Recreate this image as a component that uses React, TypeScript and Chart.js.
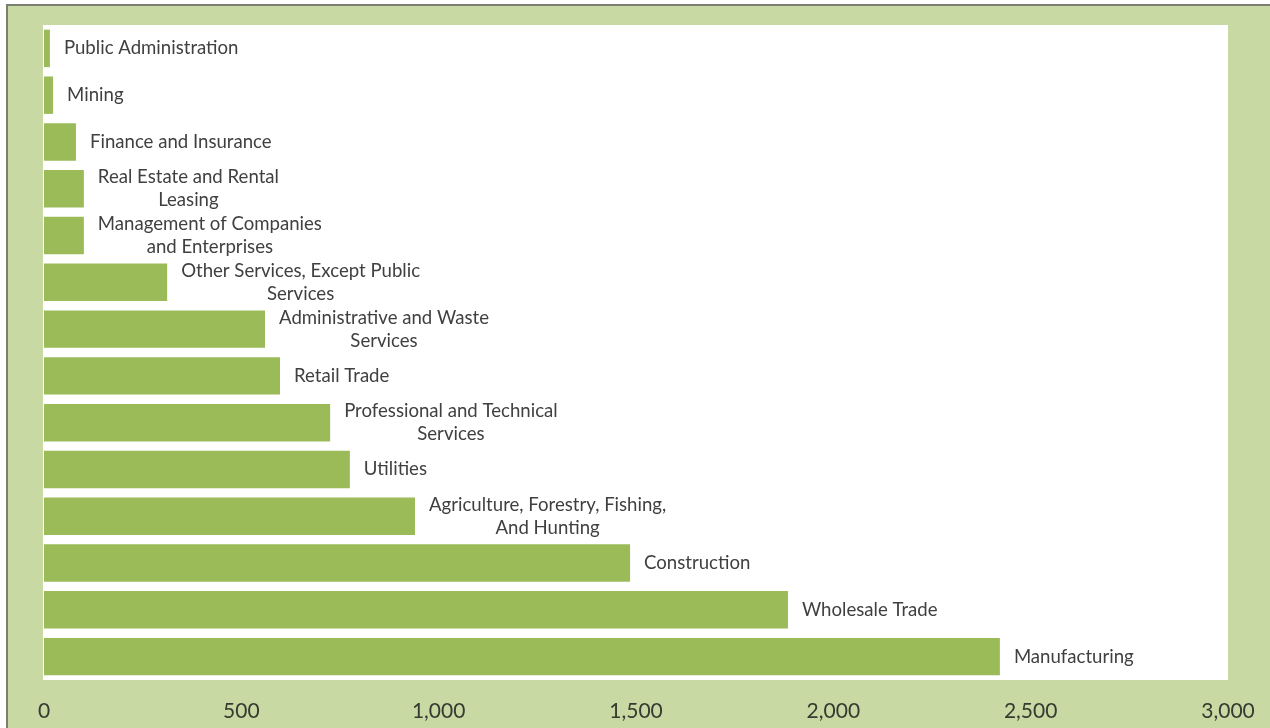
import React, { useEffect, useRef } from "react";
import { Chart, registerables } from "chart.js";

Chart.register(...registerables);

const categories: string[][] = [
  ["Public Administration"],
  ["Mining"],
  ["Finance and Insurance"],
  ["Real Estate and Rental", "Leasing"],
  ["Management of Companies", "and Enterprises"],
  ["Other Services, Except Public", "Services"],
  ["Administrative and Waste", "Services"],
  ["Retail Trade"],
  ["Professional and Technical", "Services"],
  ["Utilities"],
  ["Agriculture, Forestry, Fishing,", "And Hunting"],
  ["Construction"],
  ["Wholesale Trade"],
  ["Manufacturing"],
];

const values: number[] = [15, 23, 81, 101, 101, 312, 560, 598, 725, 775, 940, 1485, 1885, 2422];

const xTicks: number[] = [0, 500, 1000, 1500, 2000, 2500, 3000];

const FONT = "Lato, 'Open Sans', sans-serif";

const backgroundPlugin = {
  id: "bgPlugin",
  beforeDraw(chart: any) {
    const { ctx, width, height, chartArea } = chart;
    ctx.save();
    ctx.fillStyle = "#ffffff";
    ctx.fillRect(0, 0, width, height);
    ctx.fillStyle = "#c9d9a4";
    ctx.fillRect(7, 5, width - 7, height - 5);
    ctx.strokeStyle = "#7a7f72";
    ctx.lineWidth = 2;
    ctx.beginPath();
    ctx.moveTo(7, height);
    ctx.lineTo(7, 5);
    ctx.lineTo(width, 5);
    ctx.stroke();
    ctx.fillStyle = "#ffffff";
    ctx.fillRect(chartArea.left - 1, chartArea.top, chartArea.right - chartArea.left + 1, chartArea.bottom - chartArea.top);
    ctx.restore();
  },
};

const labelPlugin = {
  id: "barLabels",
  afterDatasetsDraw(chart: any) {
    const { ctx } = chart;
    const meta = chart.getDatasetMeta(0);
    ctx.save();
    ctx.font = `18.6px ${FONT}`;
    ctx.fillStyle = "#404040";
    ctx.textBaseline = "middle";
    ctx.textAlign = "center";
    const lineH = 23;
    meta.data.forEach((bar: any, i: number) => {
      const lines = categories[i];
      const maxW = Math.max(...lines.map((l) => ctx.measureText(l).width));
      const cx = bar.x + 14 + maxW / 2;
      const startY = bar.y - ((lines.length - 1) * lineH) / 2;
      lines.forEach((l, j) => {
        ctx.fillText(l, cx, startY + j * lineH);
      });
    });
    ctx.restore();
  },
};

export default function App() {
  const ref = useRef<HTMLCanvasElement | null>(null);
  useEffect(() => {
    if (!ref.current) return;
    const chart = new Chart(ref.current, {
      type: "bar",
      data: {
        labels: categories,
        datasets: [
          {
            data: values,
            backgroundColor: "#9bbb59",
            borderWidth: 0,
            barPercentage: 0.8,
            categoryPercentage: 1,
          },
        ],
      },
      options: {
        indexAxis: "y",
        animation: false,
        responsive: true,
        maintainAspectRatio: false,
        layout: { padding: { left: 44, right: 42, top: 25, bottom: 0 } },
        plugins: { legend: { display: false }, tooltip: { enabled: false } },
        scales: {
          y: { display: false },
          x: {
            min: xTicks[0],
            max: xTicks[xTicks.length - 1],
            grid: { display: false, drawTicks: false },
            border: { display: false },
            afterBuildTicks: (axis: any) => {
              axis.ticks = xTicks.map((v) => ({ value: v }));
            },
            afterFit: (axis: any) => {
              axis.height = 48;
              axis.paddingLeft = 0;
              axis.paddingRight = 0;
            },
            ticks: {
              padding: 19,
              color: "#363a30",
              font: { family: FONT, size: 21 },
              maxRotation: 0,
              callback: (v: any) => Number(v).toLocaleString("en-US"),
            },
          },
        },
      },
      plugins: [backgroundPlugin, labelPlugin],
    });
    return () => chart.destroy();
  }, []);
  return (
    <div style={{ position: "fixed", left: 0, top: 0, width: 1270, height: 728 }}>
      <canvas ref={ref} />
    </div>
  );
}
